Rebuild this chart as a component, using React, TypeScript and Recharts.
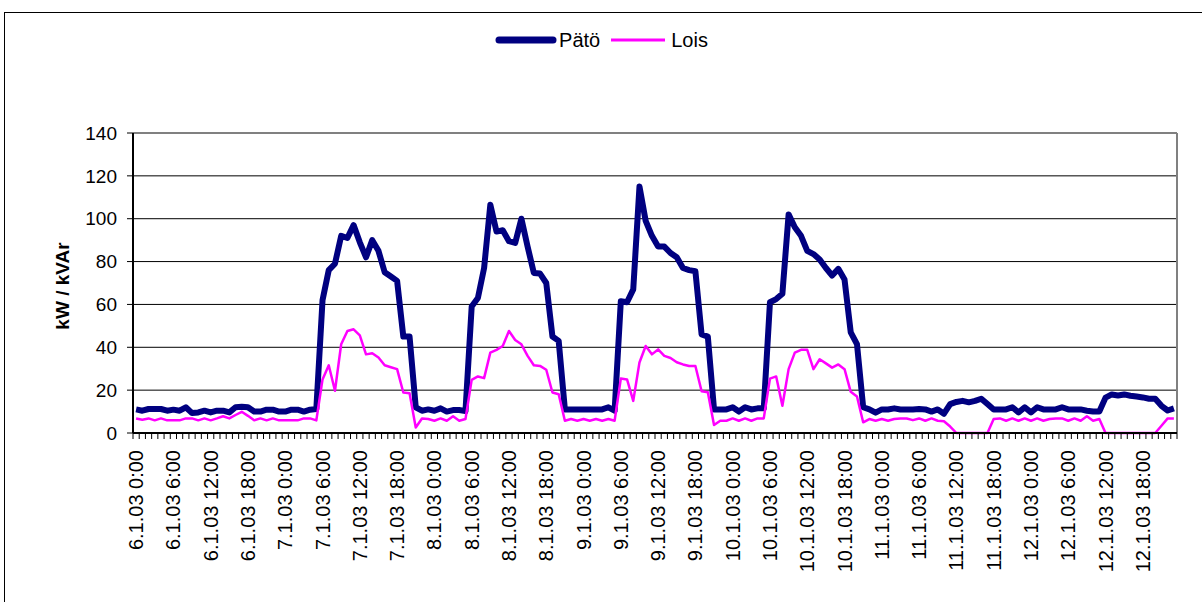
import React from 'react';
import { LineChart, Line, XAxis, YAxis, CartesianGrid, Legend, Label } from 'recharts';

const FONT = '"Liberation Sans", Arial, sans-serif';

// one reading per hour, 6.1.03 0:00 .. 12.1.03 23:00
const days = ['6.1.03', '7.1.03', '8.1.03', '9.1.03', '10.1.03', '11.1.03', '12.1.03'];
const hours = [0, 1, 2, 3, 4, 5, 6, 7, 8, 9, 10, 11, 12, 13, 14, 15, 16, 17, 18, 19, 20, 21, 22, 23];

// Pätö (kW), one row per day
const pato = [
  11, 10.4, 11.2, 11.2, 11.2, 10.4, 10.9, 10.4, 12, 9.3, 9.6, 10.4, 9.6, 10.4, 10.4, 9.6, 12, 12.2, 12, 10, 10, 10.9, 10.9, 10,
  10, 10.9, 10.9, 10, 10.9, 11.2, 62, 76, 79, 92, 91, 97, 89, 82, 90, 85, 75, 73, 71, 45, 45, 12, 10.4, 11,
  10.4, 11.5, 10, 10.7, 10.7, 10.2, 59, 63, 77, 106.5, 94, 94.6, 89.5, 88.7, 100, 87, 74.7, 74.4, 70, 45, 43, 11, 11, 11,
  11, 11, 11, 11, 12, 10.4, 61.5, 61, 67, 115, 99, 92, 87, 87, 84, 82, 77, 76, 75.5, 46, 45, 11, 11, 11,
  12, 10, 12, 11, 11.5, 11.5, 61, 62.5, 65, 102, 96, 92, 85, 83.5, 81, 77, 73.5, 76.6, 71.6, 47, 41.5, 12, 11, 9.5,
  11, 11, 11.5, 11, 11, 11, 11.2, 11, 10, 11, 9, 13.5, 14.5, 15, 14.3, 15, 16, 13.5, 11, 11, 11, 12, 9.6, 12,
  9.6, 12, 11, 11, 11, 12, 11, 11, 11, 10.4, 10, 10, 16.5, 18, 17.5, 18, 17.4, 17, 16.6, 16, 16, 12.7, 10.5, 11.5,
];

// Lois (kVAr), one row per day
const lois = [
  6.8, 6.2, 6.8, 5.9, 6.8, 5.9, 5.9, 5.9, 6.8, 6.8, 5.9, 6.8, 5.9, 6.8, 7.8, 6.8, 8.4, 9.9, 8, 5.9, 6.8, 5.9, 6.8, 5.9,
  5.9, 5.9, 5.9, 6.8, 6.8, 5.9, 25, 31.6, 19.7, 41.4, 47.6, 48.4, 45.6, 36.7, 37.2, 35.2, 31.6, 30.7, 29.8, 18.9, 18.6, 2.6, 6.8, 6.5,
  5.7, 6.8, 5.7, 7.8, 5.7, 6.5, 24.8, 26.4, 25.6, 37.5, 38.8, 40.6, 47.6, 43.4, 41.4, 36, 31.6, 31.3, 29.5, 18.9, 18.1, 5.7, 6.5, 5.7,
  6.5, 5.7, 6.5, 5.7, 6.5, 5.7, 25.4, 25, 15, 32.9, 40.6, 36.7, 39, 36, 35, 33, 32, 31.3, 31.3, 19.5, 19, 3.7, 5.7, 5.7,
  6.8, 5.7, 6.8, 5.7, 6.8, 6.8, 25.4, 26.4, 12.7, 29.8, 37.5, 38.8, 38.8, 29.8, 34.4, 32.5, 30.5, 32, 29.8, 19.2, 17, 5, 6.5, 5.7,
  6.5, 5.7, 6.5, 6.8, 6.8, 6, 6.8, 5.7, 6.8, 5.7, 5.5, 3, 0, 0, 0, 0, 0, 0, 6.5, 6.8, 5.7, 6.8, 5.7, 6.8,
  5.7, 6.8, 5.7, 6.5, 6.8, 6.8, 5.7, 6.8, 5.7, 7.8, 5.7, 6.5, 0, 0, 0, 0, 0, 0, 0, 0, 0, 3.4, 6.8, 6.8,
];

const yTicks = [0, 20, 40, 60, 80, 100, 120, 140];

const data = days.flatMap((day, d) =>
  hours.map((h, i) => ({
    time: `${day} ${h}:00`,
    pato: pato[d * 24 + i],
    lois: lois[d * 24 + i],
  }))
);

const PLOT_W = 1044;
const BAND = PLOT_W / data.length;

// tick mark between every hour, label every 6 hours
const XTick = (props: any) => {
  const { x, y, index, payload } = props;
  const ty = y + 17;
  return (
    <g>
      <line x1={x - BAND / 2} y1={y} x2={x - BAND / 2} y2={y + 6} stroke="#000" strokeWidth={1} />
      {index === data.length - 1 && (
        <line x1={x + BAND / 2} y1={y} x2={x + BAND / 2} y2={y + 6} stroke="#000" strokeWidth={1} />
      )}
      {index % 6 === 0 && (
        <text
          x={x}
          y={ty}
          transform={`rotate(-90, ${x}, ${ty})`}
          textAnchor="end"
          dominantBaseline="central"
          fontSize={20}
          fontFamily={FONT}
          fill="#000"
        >
          {payload.value}
        </text>
      )}
    </g>
  );
};

const LegendBox = () => (
  <div
    style={{
      display: 'flex',
      justifyContent: 'center',
      alignItems: 'center',
      height: 24,
      fontFamily: FONT,
      fontSize: 20,
      color: '#000',
    }}
  >
    <svg width={64} height={12}>
      <line x1={5} y1={6} x2={59} y2={6} stroke="#000080" strokeWidth={7} strokeLinecap="round" />
    </svg>
    <span style={{ marginLeft: 1 }}>Pätö</span>
    <svg width={58} height={12} style={{ marginLeft: 9 }}>
      <line x1={2} y1={6} x2={56} y2={6} stroke="#ff00ff" strokeWidth={3} />
    </svg>
    <span style={{ marginLeft: 4 }}>Lois</span>
  </div>
);

export default function App() {
  return (
    <div style={{ position: 'absolute', left: 0, top: 0, width: 1202, height: 602, background: '#fff', overflow: 'hidden' }}>
      {/* chart frame: only left and top edges fall inside the picture */}
      <div
        style={{
          position: 'absolute',
          left: 4,
          top: 12,
          width: 1220,
          height: 620,
          border: '1px solid #000',
          boxSizing: 'border-box',
        }}
      />
      <LineChart
        width={1202}
        height={602}
        data={data}
        margin={{ top: 133, right: 25, bottom: 0, left: 0 }}
        style={{ fontFamily: FONT }}
      >
        <CartesianGrid vertical={false} stroke="#000" strokeWidth={1} />
        <CartesianGrid
          stroke="#808080"
          strokeWidth={2}
          horizontalCoordinatesGenerator={({ offset }: any) => [offset.top]}
          verticalCoordinatesGenerator={({ offset }: any) => [offset.left + offset.width]}
        />
        <XAxis
          dataKey="time"
          interval={0}
          height={169}
          padding={{ left: BAND / 2, right: BAND / 2 }}
          tickSize={0}
          tickMargin={0}
          tickLine={false}
          axisLine={{ stroke: '#000', strokeWidth: 2 }}
          tick={<XTick />}
        />
        <YAxis
          width={133}
          domain={[0, 140]}
          ticks={yTicks}
          interval={0}
          tickSize={6}
          tickMargin={10}
          tickLine={{ stroke: '#000' }}
          axisLine={{ stroke: '#000', strokeWidth: 2 }}
          tick={{ fill: '#000', fontSize: 19, fontFamily: FONT }}
        >
          <Label
            content={() => (
              <text
                x={62}
                y={286}
                transform="rotate(-90, 62, 286)"
                textAnchor="middle"
                dominantBaseline="central"
                fontWeight="bold"
                fontSize={19}
                fontFamily={FONT}
                fill="#000"
              >
                kW / kVAr
              </text>
            )}
          />
        </YAxis>
        <Legend
          layout="horizontal"
          verticalAlign="middle"
          align="center"
          content={<LegendBox />}
          wrapperStyle={{ top: 28, left: 0, width: 1202 }}
        />
        <Line
          type="linear"
          dataKey="pato"
          name="Pätö"
          stroke="#000080"
          strokeWidth={6}
          strokeLinejoin="round"
          dot={false}
          isAnimationActive={false}
        />
        <Line
          type="linear"
          dataKey="lois"
          name="Lois"
          stroke="#ff00ff"
          strokeWidth={2.5}
          strokeLinejoin="round"
          dot={false}
          isAnimationActive={false}
        />
      </LineChart>
    </div>
  );
}
